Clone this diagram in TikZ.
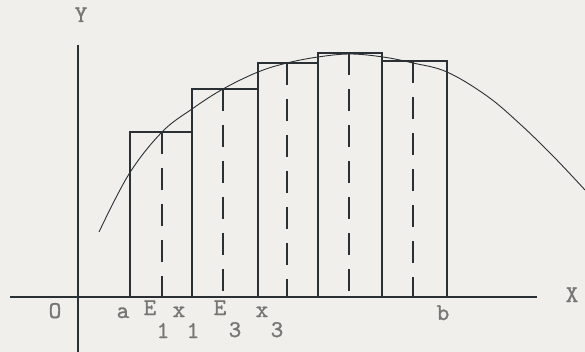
\documentclass[tikz,border=0pt]{standalone}
\usepackage{fontspec}
\usepackage{tikz}
\usepackage{xcolor}
\newfontfamily\typew{lmmono10-regular.otf}[FakeBold=1.2]
\definecolor{paper}{HTML}{F0EFEB}
\definecolor{ink}{HTML}{2B3035}
\definecolor{typeink}{HTML}{767674}

\begin{document}
\begin{tikzpicture}[
    x=1pt, y=-1pt,
    axis/.style={ink, line width=1.4pt},
    bar/.style={ink, line width=1.2pt},
    mid/.style={ink, line width=1.1pt, dash pattern=on 22pt off 14pt},
    arc/.style={ink, line width=0.9pt},
    lbl/.style={typeink, font=\typew\fontsize{24}{24}\selectfont, inner sep=0pt, anchor=base},
]

%--- Sheet ---
\useasboundingbox (0,0) rectangle (585,352);
\fill[paper] (0,0) rectangle (585,352);

%--- Coordinates ---
\def\Ox{78}   % y axis x
\def\Oy{297}  % x axis y

%--- Axes ---
\draw[axis] (10,\Oy) -- (537,\Oy);
\draw[axis] (\Ox,45) -- (\Ox,352);

%--- Bars (left edge, top, right edge) ---
\draw[bar] (130,\Oy) -- (130,132) -- (192,132) -- (192,\Oy);
\draw[bar] (192,\Oy) -- (192,89) -- (258,89) -- (258,\Oy);
\draw[bar] (258,\Oy) -- (258,63) -- (318,63) -- (318,\Oy);
\draw[bar] (318,\Oy) -- (318,53) -- (382,53) -- (382,\Oy);
\draw[bar] (382,\Oy) -- (382,61) -- (447,61) -- (447,\Oy);

%--- Mean value ordinates (dashed) ---
\draw[mid] (162,132) -- (162,\Oy);
\draw[mid] (223,89) -- (223,\Oy);
\draw[mid] (287,63) -- (287,\Oy);
\draw[mid] (349,53) -- (349,\Oy);
\draw[mid] (413,61) -- (413,\Oy);

%--- Curve ---
\draw[arc] plot[smooth, tension=0.6] coordinates {
    (99,232) (129,174) (162,132) (192,109) (223,89) (258,72)
    (287,63) (318,57) (350,54) (383,57) (413,63) (447,72)
    (487,96) (520,124) (553,156) (585,190)};

%--- Labels ---
\node[lbl] (lblY) at (81,22) {Y};
\node[lbl] (lblX) at (572,302) {X};
\node[lbl] (lblO) at (55,318) {O};
\node[lbl] (lbla) at (123,318) {a};
\node[lbl] (lblE1) at (150,315) {E};
\node[lbl] (lblE1s) at (163,338) {1};
\node[lbl] (lblx1) at (179,317) {x};
\node[lbl] (lblx1s) at (193,338) {1};
\node[lbl] (lblE3) at (220,315) {E};
\node[lbl] (lblE3s) at (235,337) {3};
\node[lbl] (lblx3) at (262,317) {x};
\node[lbl] (lblx3s) at (277,337) {3};
\node[lbl] (lblb) at (443,320) {b};

\end{tikzpicture}
\end{document}
